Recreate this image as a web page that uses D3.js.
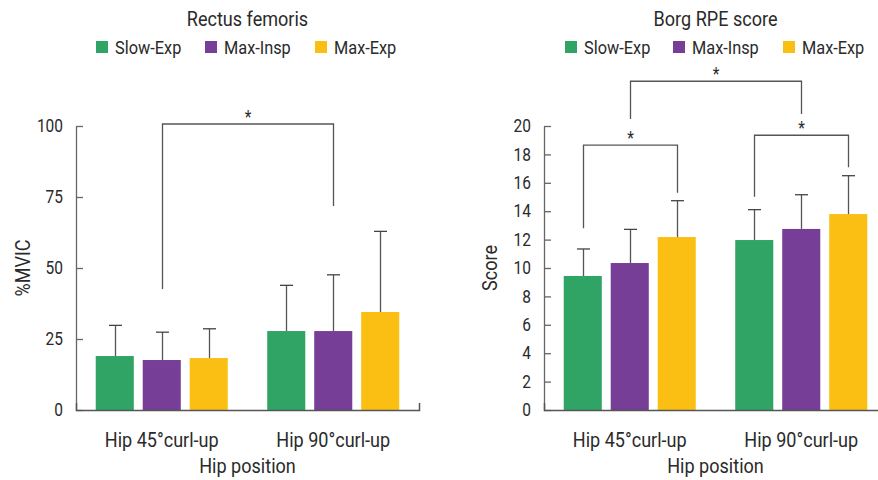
<!DOCTYPE html>
<html><head><meta charset="utf-8">
<script src="https://cdn.jsdelivr.net/npm/d3@7"></script>
<style>
html,body{margin:0;padding:0;background:#fff;}
svg{display:block;}
text{font-family:Roboto,"Liberation Sans",sans-serif;fill:#2a2a2a;}
</style></head>
<body><svg id="c" width="878" height="480"></svg>
<script>
// ---- data ----
const groups = ["Hip 45°curl-up", "Hip 90°curl-up"];
const series = ["Slow-Exp", "Max-Insp", "Max-Exp"];
const seriesColors = ["#30a464", "#763e97", "#fbbf14"];

const rfMean = [[19.0, 17.6, 18.3], [27.8, 27.8, 34.5]];
const rfSD   = [[10.8, 9.8, 10.3], [16.1, 19.8, 28.4]];
const rfTicks = [0, 25, 50, 75, 100];

const borgMean = [[9.44, 10.35, 12.18], [11.97, 12.75, 13.80]];
const borgSD   = [[1.90, 2.37, 2.56], [2.14, 2.41, 2.70]];
const borgTicks = [0, 2, 4, 6, 8, 10, 12, 14, 16, 18, 20];

// brackets: [groupA, seriesA, groupB, seriesB, top, legA, legB]
const rfBrackets = [[0, 1, 1, 1, 100.7, 42.6, 71.8]];
const borgBrackets = [
  [0, 0, 0, 2, 18.66, 12.8, 15.3],
  [1, 0, 1, 2, 19.35, 15.02, 17.09],
  [0, 1, 1, 1, 23.15, 20.49, 20.85]
];

const SX = 0.86; // condensed look
const svg = d3.select("#c");

function txt(g, x, y, s, size, anchor, rot) {
  return g.append("text")
    .attr("transform", `translate(${x},${y})` + (rot ? ` rotate(${rot})` : "") + ` scale(${SX},1)`)
    .attr("text-anchor", anchor || "start").style("font-size", size + "px").text(s);
}

function panel(opt) {
  const g = svg.append("g");
  const W = 343;
  const x0 = d3.scaleBand().domain(groups).range([opt.left, opt.left + W]).padding(0);
  const x1 = d3.scaleBand().domain(series).range([0, x0.bandwidth()]).paddingInner(0.19).paddingOuter(0.42);
  const y = d3.scaleLinear().domain(opt.domain).range([410, 126]);
  const cx = (gi, si) => x0(groups[gi]) + x1(series[si]) + x1.bandwidth() / 2;

  // title
  txt(g, opt.left + W / 2, 26, opt.title, 21, "middle");

  // legend
  series.forEach((s, i) => {
    const lx = opt.legendX[i];
    g.append("rect").attr("x", lx).attr("y", 41).attr("width", 12).attr("height", 12)
      .attr("fill", seriesColors[i]);
    txt(g, lx + 19, 54, s, 19, "start");
  });

  // bars
  groups.forEach((gr, gi) => {
    series.forEach((s, si) => {
      const m = opt.mean[gi][si], sd = opt.sd[gi][si];
      const bx = x0(gr) + x1(s);
      g.append("rect").attr("x", bx).attr("y", y(m)).attr("width", x1.bandwidth())
        .attr("height", y(0) - y(m)).attr("fill", seriesColors[si]);
      const c = Math.round(cx(gi, si)) + 0.5;
      g.append("line").attr("x1", c).attr("x2", c).attr("y1", y(m)).attr("y2", y(m + sd))
        .attr("stroke", "#555").attr("stroke-width", 1.3);
      g.append("line").attr("x1", c - 6.5).attr("x2", c + 6.5).attr("y1", y(m + sd)).attr("y2", y(m + sd))
        .attr("stroke", "#444").attr("stroke-width", 1.3);
    });
  });

  // y axis
  const ya = d3.axisLeft(y).tickValues(opt.ticks).tickSize(-7).tickPadding(13).tickSizeOuter(0);
  const yg = g.append("g").attr("transform", `translate(${opt.left},0)`).call(ya);
  yg.select(".domain").attr("stroke", "#666").attr("stroke-width", 1.3);
  yg.selectAll(".tick line").attr("stroke", "#666").attr("stroke-width", 1.3);
  yg.selectAll(".tick text").style("font-size", "18px").attr("fill", "#2a2a2a")
    .style("font-family", "Roboto,sans-serif")
    .attr("x", -13 / SX).attr("transform", `scale(${SX},1)`);

  // x axis
  const xa = d3.axisBottom(x0).tickSize(0).tickPadding(22).tickSizeOuter(-7);
  const xg = g.append("g").attr("transform", "translate(0,410)").call(xa);
  xg.select(".domain").attr("stroke", "#555").attr("stroke-width", 1.5);
  xg.selectAll(".tick text").style("font-size", "21px").attr("fill", "#2a2a2a")
    .style("font-family", "Roboto,sans-serif").attr("transform", `scale(${SX},1)`);

  // axis titles
  txt(g, opt.left + W / 2, 473, "Hip position", 21, "middle");
  txt(g, opt.ylabX, 268, opt.ylabel, 21, "middle", -90).attr("dy", "0.35em");

  // significance brackets
  opt.brackets.forEach(b => {
    const xa_ = Math.round(cx(b[0], b[1])) + 0.5, xb_ = Math.round(cx(b[2], b[3])) + 0.5;
    const yt = y(b[4]);
    g.append("path")
      .attr("d", `M${xa_},${y(b[5])}V${yt}H${xb_}V${y(b[6])}`)
      .attr("fill", "none").attr("stroke", "#555").attr("stroke-width", 1.3);
    txt(g, (xa_ + xb_) / 2, yt - 1, "*", 18, "middle");
  });
}

panel({left: 76, domain: [0, 100], ticks: rfTicks, mean: rfMean, sd: rfSD,
  title: "Rectus femoris", legendX: [96, 205, 315], ylabel: "%MVIC", ylabX: 23,
  brackets: rfBrackets});
panel({left: 544, domain: [0, 20], ticks: borgTicks, mean: borgMean, sd: borgSD,
  title: "Borg RPE score", legendX: [565, 673, 783], ylabel: "Score", ylabX: 490,
  brackets: borgBrackets});
</script></body></html>
